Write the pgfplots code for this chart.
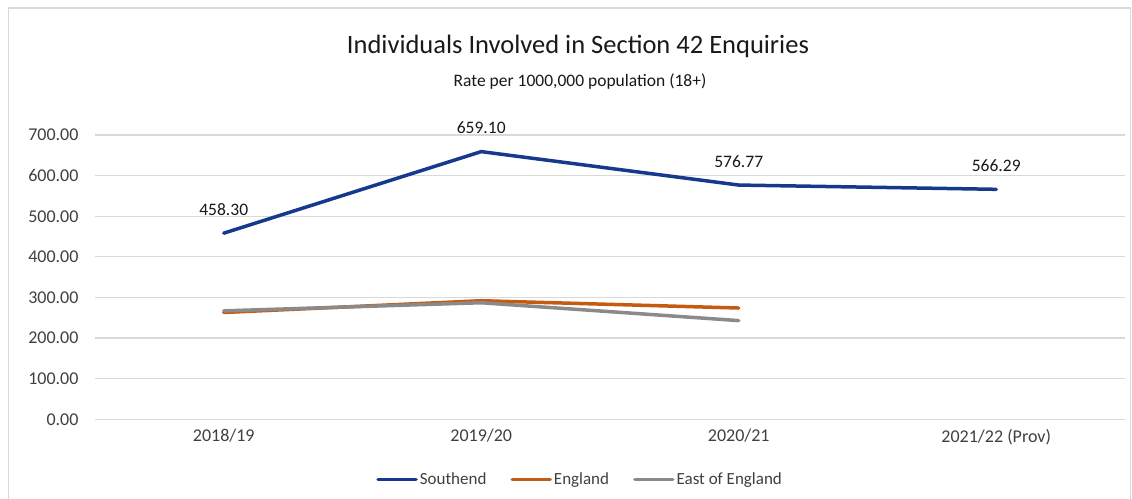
\documentclass[border=0pt]{standalone}
\usepackage{pgfplots}
\pgfplotsset{compat=1.18}
\usepackage{fontspec}
\setmainfont{Carlito}
\definecolor{sblue}{HTML}{16398E}
\definecolor{eorange}{HTML}{C55A11}
\definecolor{egray}{HTML}{8A8A8A}
\definecolor{gridc}{HTML}{D9D9D9}
\definecolor{txt}{HTML}{404040}
\begin{document}
\begin{tikzpicture}
\useasboundingbox (0pt,0pt) rectangle (1132pt,498pt);
\fill[white] (0pt,0pt) rectangle (1132pt,498pt);
\draw[gridc, line width=1.5pt] (8.5pt,-20pt) -- (8.5pt,490pt) -- (1130.5pt,490pt) -- (1130.5pt,-20pt);
\node[font=\fontsize{26.5}{30}\selectfont, text=black!90] at (578pt,452pt) {Individuals Involved in Section 42 Enquiries};
\node[font=\fontsize{17.5}{21}\selectfont, text=black!90] at (580pt,416pt) {Rate per 1000,000 population (18+)};
\begin{axis}[
  at={(95pt,78.7pt)}, anchor=south west,
  scale only axis, width=1030pt, height=284.3pt,
  xmin=-0.5, xmax=3.5, ymin=0, ymax=700,
  xtick={0,1,2,3},
  xticklabels={2018/19,2019/20,2020/21,2021/22 (Prov)},
  ytick={0,100,...,700},
  axis line style={draw=none},
  tick style={draw=none},
  ymajorgrids, grid style={gridc, line width=1.2pt},
  y tick label style={/tikz/xshift=-13pt},
  yticklabel={\pgfmathprintnumber[fixed,fixed zerofill,precision=2,assume math mode=true]{\tick}},
  ticklabel style={font=\fontsize{18}{21}\selectfont, text=txt},
  x tick label style={/tikz/yshift=-6pt},
  legend style={at={(0.471,-0.211)}, anchor=center, draw=none, legend columns=3,
    font=\fontsize{17}{20}\selectfont, text=txt,
    /tikz/every even column/.append style={column sep=22pt}},
  legend image code/.code={\draw[#1, line width=3.5pt, line cap=round] (0pt,0pt) -- (38pt,0pt);},
  clip=false,
]
\addplot[sblue, line width=3.5pt, line cap=round, line join=round,
  nodes near coords={\pgfmathprintnumber[fixed,fixed zerofill,precision=2,assume math mode=true]{\pgfplotspointmeta}},
  every node near coord/.append style={anchor=base, yshift=18pt, font=\fontsize{17.5}{20}\selectfont, text=black!90}]
  coordinates {(0,458.30) (1,659.10) (2,576.77) (3,566.29)};
\addlegendentry{Southend}
\addplot[eorange, line width=3.5pt, line cap=round, line join=round]
  coordinates {(0,263) (1,292) (2,274)};
\addlegendentry{England}
\addplot[egray, line width=3.5pt, line cap=round, line join=round]
  coordinates {(0,267) (1,287) (2,243)};
\addlegendentry{East of England}
\end{axis}
\end{tikzpicture}
\end{document}
